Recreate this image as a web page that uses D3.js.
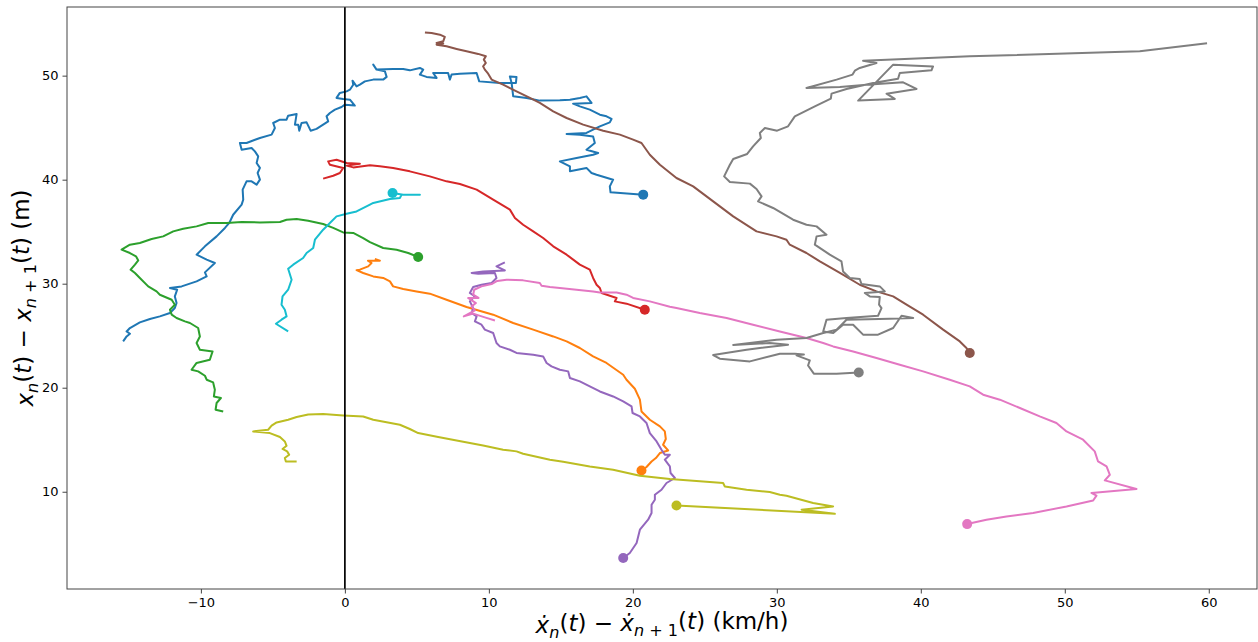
<!DOCTYPE html>
<html>
<head>
<meta charset="utf-8">
<script src="https://cdn.jsdelivr.net/npm/d3@7"></script>
<style>
  html, body { margin: 0; padding: 0; background: #fff; }
  svg { display: block; }
  text { font-family: "DejaVu Sans", sans-serif; }
</style>
</head>
<body>
<svg id="chart" width="1258" height="642"></svg>
<script>
// ---------- data (relative speed km/h, gap m) ----------
const xTicks = [-10, 0, 10, 20, 30, 40, 50, 60];
const yTicks = [10, 20, 30, 40, 50];

const blue = [[-15.40,24.45],[-15.16,24.93],[-14.93,25.19],[-15.16,25.41],[-14.93,25.74],[-14.24,26.28],[-13.54,26.61],[-12.85,26.86],[-12.15,27.18],[-11.81,27.66],[-11.69,28.14],[-11.81,28.78],[-11.65,29.42],[-12.15,29.59],[-11.34,29.74],[-10.30,30.22],[-9.60,30.70],[-9.72,31.09],[-9.03,31.99],[-9.60,32.31],[-10.30,32.79],[-9.72,33.59],[-8.91,34.55],[-8.33,35.36],[-8.03,35.84],[-7.76,36.63],[-7.17,37.60],[-7.06,38.08],[-7.10,39.04],[-6.83,39.84],[-6.48,39.84],[-6.13,39.52],[-5.90,40.00],[-6.06,40.64],[-5.90,41.13],[-6.13,41.61],[-6.02,42.24],[-6.25,42.72],[-6.48,43.05],[-7.17,42.88],[-7.29,43.53],[-6.83,43.53],[-5.90,44.01],[-5.09,44.33],[-4.86,44.97],[-4.98,45.45],[-4.51,45.77],[-4.05,45.77],[-3.94,46.15],[-3.35,46.32],[-3.47,45.29],[-3.24,45.29],[-3.17,44.71],[-3.01,45.45],[-2.66,45.51],[-2.38,44.71],[-1.97,44.88],[-1.51,45.29],[-1.16,45.61],[-1.27,46.09],[-1.04,46.41],[-0.69,46.73],[-0.23,46.99],[0.00,47.21],[0.69,47.12],[0.35,47.69],[-0.12,47.76],[-0.58,47.86],[-0.35,48.34],[0.12,48.49],[0.35,48.65],[0.58,49.13],[0.53,49.52],[0.81,48.97],[1.04,49.13],[1.39,49.45],[1.97,49.62],[2.66,49.62],[2.90,49.88],[2.78,50.41],[2.20,50.58],[1.97,51.06],[2.20,50.58],[3.35,50.64],[4.05,50.64],[4.51,50.51],[5.21,50.74],[5.44,50.58],[5.21,50.10],[5.67,49.88],[6.37,49.78],[6.13,50.26],[7.17,50.26],[7.29,49.62],[7.41,50.10],[7.99,50.19],[9.15,50.26],[9.33,49.45],[10.76,49.30],[11.58,49.30],[11.46,49.93],[11.92,49.88],[11.88,49.30],[11.58,49.30],[11.69,48.01],[12.62,47.86],[13.54,47.60],[14.93,47.63],[15.63,47.69],[16.32,47.86],[16.78,48.01],[17.13,47.38],[15.85,47.31],[16.32,47.05],[17.01,46.73],[17.71,46.25],[18.17,46.09],[18.52,45.84],[18.40,45.51],[17.71,45.13],[17.24,44.81],[16.78,44.49],[15.40,44.39],[16.32,44.33],[17.24,44.16],[17.36,43.53],[16.78,42.88],[17.59,42.57],[17.24,42.40],[16.09,42.09],[14.93,41.76],[15.63,41.28],[15.63,40.80],[16.78,41.13],[17.13,40.64],[17.48,40.48],[18.63,40.00],[18.40,39.36],[18.45,38.78],[20.72,38.56]];

const orange = [[2.08,32.37],[2.43,32.21],[1.60,32.21],[1.85,31.99],[1.62,31.66],[1.04,31.35],[0.81,31.30],[1.27,31.03],[1.97,30.70],[2.66,30.55],[3.13,30.22],[3.35,29.74],[4.05,29.49],[4.98,29.26],[5.90,29.04],[7.06,28.46],[8.45,27.76],[10.30,27.02],[11.69,26.22],[13.08,25.58],[14.47,24.93],[15.40,24.45],[16.32,23.82],[17.24,23.01],[18.17,22.38],[19.33,21.25],[19.56,20.77],[20.14,19.90],[20.49,18.85],[20.60,17.72],[21.18,16.92],[21.88,16.28],[22.22,15.80],[22.29,15.07],[22.10,14.52],[22.45,13.97],[21.88,13.72],[21.60,13.24],[21.30,12.91],[20.95,12.38],[20.60,12.05]];

const green = [[-8.45,17.72],[-8.98,17.88],[-8.91,18.53],[-8.61,19.01],[-9.10,19.16],[-9.03,19.81],[-9.15,20.51],[-9.60,20.77],[-9.72,21.15],[-10.19,21.57],[-10.65,21.73],[-10.30,22.38],[-9.38,22.69],[-9.19,23.49],[-10.07,23.65],[-10.30,24.30],[-10.07,24.93],[-10.19,25.74],[-10.76,26.22],[-11.11,26.38],[-11.69,26.70],[-12.03,27.02],[-12.15,27.50],[-11.81,27.98],[-12.03,28.46],[-12.85,28.94],[-13.08,29.26],[-13.66,29.74],[-14.24,30.55],[-14.58,31.03],[-14.88,31.35],[-14.58,31.83],[-14.35,32.24],[-14.51,32.63],[-14.93,32.95],[-15.51,33.27],[-14.93,33.75],[-14.24,33.91],[-13.42,34.30],[-12.62,34.55],[-11.92,35.03],[-11.23,35.29],[-10.30,35.51],[-9.49,35.84],[-8.22,35.84],[-7.17,35.93],[-5.90,35.89],[-4.51,35.93],[-4.05,36.15],[-3.35,36.22],[-2.55,36.06],[-1.51,35.74],[-0.81,35.36],[-0.12,34.93],[0.58,34.88],[1.27,34.39],[1.74,33.99],[2.66,33.43],[3.59,33.27],[4.40,32.95],[5.09,32.57]];

const red = [[-1.51,40.10],[-0.81,40.38],[-0.35,40.64],[-0.12,41.13],[-1.04,41.44],[-1.16,41.76],[-0.58,41.92],[0.12,41.61],[1.04,41.54],[0.12,41.35],[0.58,41.18],[1.74,41.38],[2.43,41.28],[3.35,41.13],[4.51,40.80],[5.90,40.32],[7.06,39.84],[7.99,39.59],[9.15,39.04],[10.30,38.08],[11.46,37.12],[11.81,36.32],[12.38,35.67],[13.08,35.03],[13.77,34.39],[14.47,33.59],[15.40,32.79],[16.32,31.83],[17.01,31.35],[17.24,30.55],[17.48,29.90],[17.71,29.59],[17.83,29.11],[18.87,28.63],[18.75,28.30],[19.56,28.08],[20.83,27.50]];

const purple = [[11.11,32.05],[10.53,31.66],[11.11,31.28],[9.60,31.18],[8.80,31.03],[9.26,30.96],[10.42,31.03],[10.53,30.55],[10.19,30.07],[9.49,29.90],[8.91,29.68],[8.68,29.11],[9.03,28.78],[8.68,28.30],[8.91,27.66],[8.80,27.18],[9.15,26.86],[9.03,26.38],[9.49,26.06],[9.72,25.58],[10.30,25.26],[10.53,24.30],[10.76,23.97],[11.46,23.65],[11.92,23.34],[13.08,23.17],[13.77,23.01],[14.01,22.38],[14.35,22.05],[14.93,21.73],[15.51,21.57],[15.63,20.93],[16.32,20.61],[17.01,20.13],[17.71,19.64],[18.63,19.16],[19.33,18.68],[19.91,18.20],[19.98,17.57],[20.49,17.24],[20.95,16.61],[21.18,15.64],[21.65,14.84],[21.99,14.04],[22.22,13.56],[22.57,13.56],[22.22,13.08],[22.57,12.43],[22.62,11.80],[22.92,11.32],[22.34,10.84],[21.99,10.19],[21.53,9.71],[21.53,9.23],[21.30,8.75],[21.30,7.95],[21.06,7.31],[20.49,6.35],[20.26,5.07],[19.79,4.11],[19.33,3.63]];

const brown = [[5.56,54.16],[6.02,54.11],[6.60,53.94],[6.94,53.72],[6.83,53.30],[6.37,53.14],[6.83,53.08],[6.37,52.98],[7.06,52.82],[7.76,52.57],[8.45,52.34],[9.26,52.09],[9.79,51.86],[9.65,51.54],[9.79,51.22],[9.60,50.89],[9.72,50.58],[9.95,50.19],[10.19,49.62],[10.99,49.13],[11.92,48.49],[12.85,47.86],[13.54,47.38],[14.47,46.57],[15.40,45.93],[16.55,45.29],[17.94,44.71],[19.10,44.33],[20.02,43.85],[20.60,43.53],[21.18,42.40],[21.88,41.44],[23.03,40.16],[24.19,39.36],[25.58,37.91],[26.97,36.47],[28.59,35.03],[29.98,34.55],[30.67,34.23],[30.90,33.75],[32.06,32.95],[32.99,32.14],[34.38,31.03],[35.76,29.90],[36.92,29.26],[38.08,28.78],[39.01,27.98],[40.16,27.02],[41.55,25.58],[42.71,24.45],[43.17,23.82],[43.40,23.34]];

const pink = [[10.42,26.47],[9.72,26.76],[8.91,27.12],[8.26,26.86],[9.03,27.43],[8.80,27.82],[9.10,28.14],[8.56,28.63],[9.28,28.63],[8.91,28.94],[8.98,29.42],[9.49,29.74],[10.19,29.97],[10.58,30.26],[11.23,30.38],[12.38,30.32],[13.54,30.07],[13.66,29.81],[14.24,29.68],[14.93,29.59],[16.09,29.42],[17.24,29.26],[17.71,29.16],[18.87,29.16],[19.56,28.94],[20.02,28.63],[21.18,28.30],[22.57,27.79],[23.03,27.66],[24.65,27.18],[26.51,26.70],[28.35,26.06],[30.21,25.41],[31.13,25.10],[32.06,24.78],[33.22,24.30],[33.91,23.97],[35.30,23.49],[36.92,22.86],[38.54,22.21],[40.16,21.57],[42.01,20.77],[43.40,20.13],[44.33,19.33],[45.49,18.85],[46.88,18.05],[48.26,17.24],[49.42,16.61],[50.12,15.80],[51.27,15.00],[52.08,13.88],[52.31,12.91],[52.90,12.43],[53.13,11.63],[52.78,11.09],[54.98,10.26],[51.85,9.88],[52.20,9.62],[51.97,9.16],[50.12,8.59],[47.80,7.95],[45.95,7.63],[44.56,7.31],[43.22,6.89]];

const gray = [[59.88,53.11],[55.21,52.34],[43.40,51.86],[35.99,51.44],[36.92,51.22],[35.76,50.74],[35.42,50.48],[35.26,50.10],[34.15,49.62],[32.06,48.82],[34.38,48.91],[36.23,49.13],[38.77,49.36],[39.70,48.72],[37.62,48.27],[38.19,47.76],[35.65,47.60],[38.08,51.06],[40.85,50.89],[40.74,50.51],[38.54,50.26],[38.42,49.71],[36.69,49.30],[34.84,48.72],[33.80,48.27],[33.75,47.79],[32.64,47.05],[31.25,46.09],[30.78,45.13],[30.02,44.71],[29.17,44.97],[28.82,44.49],[28.89,44.01],[28.35,43.20],[27.94,42.47],[26.97,41.99],[26.74,41.44],[26.34,40.32],[26.74,39.78],[28.13,39.62],[28.59,39.11],[28.94,38.39],[28.70,37.91],[29.74,37.28],[31.13,36.15],[32.06,35.67],[32.76,35.51],[33.45,34.71],[32.76,34.55],[32.64,33.75],[33.68,32.79],[34.49,32.14],[34.60,31.18],[35.07,30.55],[35.76,30.45],[35.88,29.97],[37.15,29.74],[37.50,29.26],[36.11,29.11],[36.46,28.78],[37.15,28.72],[37.10,27.98],[37.27,27.66],[37.03,26.92],[34.84,26.70],[33.45,26.54],[33.22,25.41],[33.92,25.26],[34.60,26.06],[35.30,26.06],[35.99,25.10],[37.03,25.10],[38.08,25.74],[38.66,26.92],[39.47,26.70],[37.85,26.63],[34.84,26.54],[34.15,25.58],[33.22,25.26],[32.06,24.78],[29.98,24.62],[28.13,24.30],[26.97,24.11],[29.51,24.30],[30.78,24.13],[28.82,23.82],[27.90,23.65],[25.58,23.14],[26.04,22.79],[28.13,22.53],[30.21,23.27],[31.25,23.27],[31.88,23.20],[31.37,23.11],[32.29,22.63],[32.17,22.14],[32.57,21.35],[34.15,21.35],[35.69,21.47]];

const olive = [[-3.35,12.91],[-4.10,12.91],[-4.17,13.24],[-3.87,13.56],[-4.01,13.88],[-4.33,14.11],[-4.05,14.42],[-4.17,14.84],[-4.51,15.26],[-5.21,15.64],[-6.37,15.80],[-5.33,15.96],[-5.09,16.35],[-4.74,16.66],[-3.94,16.92],[-3.35,17.18],[-2.55,17.43],[-1.51,17.47],[-0.12,17.34],[1.27,17.24],[1.97,16.92],[3.82,16.44],[4.51,16.03],[5.09,15.64],[6.48,15.26],[8.22,14.81],[9.60,14.45],[10.99,14.04],[11.92,13.88],[12.38,13.65],[14.24,13.08],[15.16,12.88],[17.01,12.43],[18.63,12.12],[20.49,11.54],[22.57,11.22],[26.27,10.84],[26.39,10.51],[27.90,10.19],[29.51,9.97],[30.21,9.71],[30.67,9.62],[32.52,8.91],[33.91,8.59],[31.72,8.27],[34.03,7.88],[23.03,8.68]];

const cyan = [[-3.94,25.41],[-4.79,26.15],[-4.40,26.54],[-4.05,26.86],[-4.17,27.50],[-4.40,27.98],[-4.33,28.78],[-3.94,29.42],[-3.70,30.38],[-3.94,31.44],[-3.59,31.83],[-2.90,32.47],[-2.66,32.95],[-2.20,33.43],[-2.08,34.23],[-1.51,35.19],[-1.04,35.84],[-0.58,36.47],[0.12,36.73],[0.81,36.95],[1.74,37.60],[1.97,37.76],[3.13,38.14],[3.82,38.24],[3.94,38.56],[5.21,38.56],[4.05,38.56],[3.31,38.72]];

const seriesNames  = ["blue", "orange", "green", "red", "purple", "brown", "pink", "gray", "olive", "cyan"];
const seriesData   = [blue, orange, green, red, purple, brown, pink, gray, olive, cyan];
const seriesColors = ["#1f77b4", "#ff7f0e", "#2ca02c", "#d62728", "#9467bd", "#8c564b", "#e377c2", "#7f7f7f", "#bcbd22", "#17becf"];

// ---------- layout ----------
const W = 1258, H = 642;
const plot = { left: 67, right: 1257, top: 7, bottom: 589 };

const svg = d3.select("#chart");

const x = d3.scaleLinear().domain([-19.3, 63.35]).range([plot.left, plot.right]);
const y = d3.scaleLinear().domain([0.65, 56.6]).range([plot.bottom, plot.top]);

const fmt = d => (d < 0 ? "\u2212" + Math.abs(d) : String(d));

// clip
svg.append("defs").append("clipPath").attr("id", "clip")
  .append("rect")
  .attr("x", plot.left).attr("y", plot.top)
  .attr("width", plot.right - plot.left).attr("height", plot.bottom - plot.top);

const g = svg.append("g").attr("clip-path", "url(#clip)");

const line = d3.line().x(d => x(d[0])).y(d => y(d[1]));

seriesData.forEach((pts, i) => {
  g.append("path")
    .datum(pts)
    .attr("class", "traj " + seriesNames[i])
    .attr("d", line)
    .attr("fill", "none")
    .attr("stroke", seriesColors[i])
    .attr("stroke-width", 2)
    .attr("stroke-linejoin", "round")
    .attr("stroke-linecap", "butt");
  const last = pts[pts.length - 1];
  g.append("circle")
    .attr("cx", x(last[0])).attr("cy", y(last[1]))
    .attr("r", 5)
    .attr("fill", seriesColors[i]);
});

// vertical line at zero
g.append("line")
  .attr("x1", x(0)).attr("x2", x(0))
  .attr("y1", plot.top).attr("y2", plot.bottom)
  .attr("stroke", "#000").attr("stroke-width", 1.7);

// axes
const xAxis = svg.append("g")
  .attr("transform", `translate(0,${plot.bottom})`)
  .call(d3.axisBottom(x).tickValues(xTicks).tickFormat(fmt).tickSize(4.5).tickPadding(4));
const yAxis = svg.append("g")
  .attr("transform", `translate(${plot.left},0)`)
  .call(d3.axisLeft(y).tickValues(yTicks).tickFormat(fmt).tickSize(4.5).tickPadding(4));

[xAxis, yAxis].forEach(a => {
  a.select(".domain").remove();
  a.selectAll(".tick line").attr("stroke", "#444").attr("stroke-width", 1);
  a.selectAll(".tick text")
    .attr("fill", "#000")
    .style("font-family", "'DejaVu Sans', sans-serif")
    .style("font-size", "13px");
});

// frame
svg.append("rect")
  .attr("x", plot.left).attr("y", plot.top)
  .attr("width", plot.right - plot.left).attr("height", plot.bottom - plot.top)
  .attr("fill", "none").attr("stroke", "#444").attr("stroke-width", 1);

// math-style labels
function mathLabel(sel, parts) {
  let shifted = false;
  parts.forEach(p => {
    const t = sel.append("tspan").text(p.t);
    if (p.i) t.style("font-style", "italic");
    if (p.sub && !shifted) { t.attr("dy", "0.3em"); shifted = true; }
    else if (!p.sub && shifted) { t.attr("dy", "-0.3em"); shifted = false; }
    if (p.sub) t.style("font-size", "70%");
  });
}

const labelSize = 23;
const xl = svg.append("text")
  .attr("x", (plot.left + plot.right) / 2)
  .attr("y", 633)
  .attr("text-anchor", "middle")
  .style("font-size", labelSize + "px")
  .attr("fill", "#000");
mathLabel(xl, [
  { t: "\u1E8B", i: true }, { t: "n", i: true, sub: true },
  { t: "(" }, { t: "t", i: true }, { t: ")" },
  { t: " \u2212 " },
  { t: "\u1E8B", i: true }, { t: "n", i: true, sub: true }, { t: " + 1", sub: true },
  { t: "(" }, { t: "t", i: true }, { t: ")" },
  { t: " (km/h)" }
]);

const yl = svg.append("text")
  .attr("transform", `translate(33,${(plot.top + plot.bottom) / 2}) rotate(-90)`)
  .attr("text-anchor", "middle")
  .style("font-size", labelSize + "px")
  .attr("fill", "#000");
mathLabel(yl, [
  { t: "x", i: true }, { t: "n", i: true, sub: true },
  { t: "(" }, { t: "t", i: true }, { t: ")" },
  { t: " \u2212 " },
  { t: "x", i: true }, { t: "n", i: true, sub: true }, { t: " + 1", sub: true },
  { t: "(" }, { t: "t", i: true }, { t: ")" },
  { t: " (m)" }
]);
</script>
</body>
</html>
